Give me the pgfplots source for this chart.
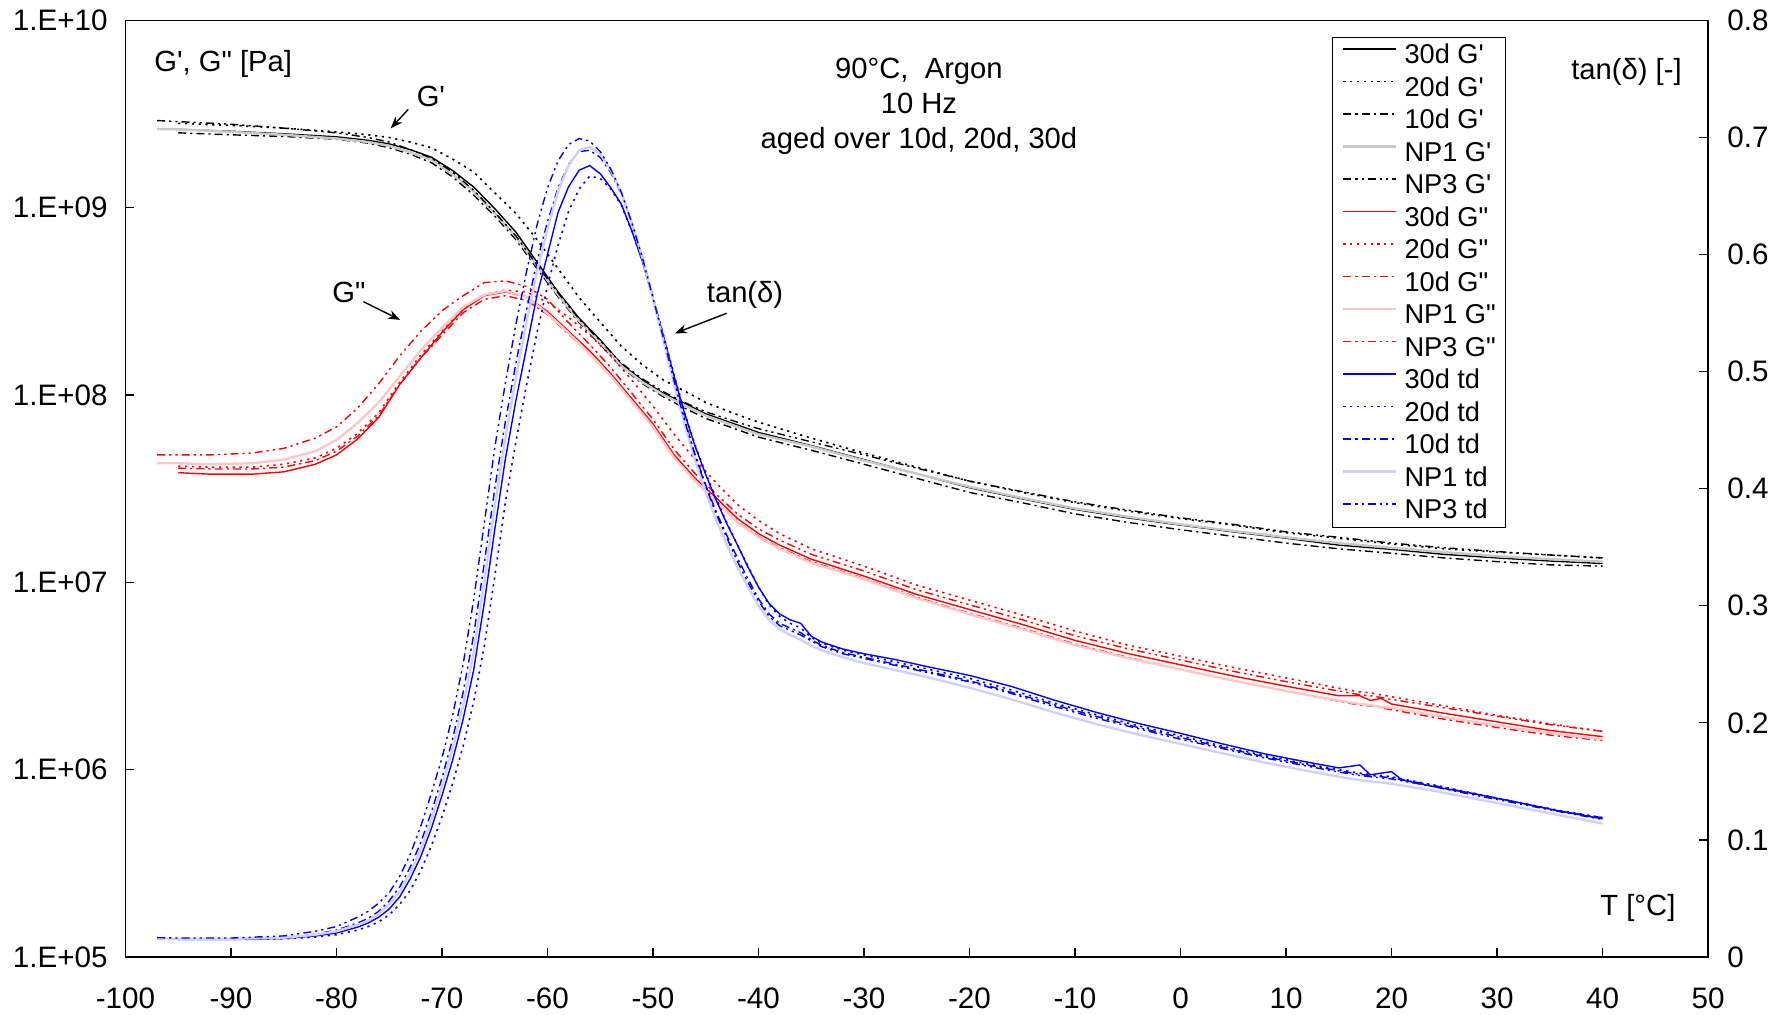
\documentclass[border=0pt]{standalone}
\usepackage{fontspec}
\setmainfont{Liberation Sans}[Ligatures=TeXOff]
\usepackage{pgfplots}
\usepackage{pgfplotstable}
\pgfplotsset{compat=1.18}
\usetikzlibrary{arrows.meta}

\definecolor{np1gray}{RGB}{200,200,200}
\definecolor{np1red}{RGB}{255,200,200}
\definecolor{np1blue}{RGB}{208,208,255}

\tikzset{
 s30/.style={line width=0.7pt},
 s20/.style={line width=0.8pt, dash pattern=on 1.1pt off 2.3pt},
 s10/.style={line width=0.7pt, dash pattern=on 4pt off 2pt on 1.1pt off 2pt},
 snp1/.style={line width=1.2pt},
 snp3/.style={line width=0.7pt, dash pattern=on 4pt off 2pt on 1.1pt off 2pt on 1.1pt off 2pt},
}

% G' [Pa]
\pgfplotstableread{
T a30 a20 a10 anp1 anp3
-97 nan nan nan 2.63e9 2.92e9
-95 2.62e9 2.82e9 2.51e9 2.62e9 2.88e9
-90 2.56e9 2.75e9 2.45e9 2.54e9 2.79e9
-85 2.48e9 2.66e9 2.40e9 2.45e9 2.66e9
-80 2.39e9 2.54e9 2.32e9 2.34e9 2.51e9
-77 2.29e9 2.45e9 2.21e9 2.24e9 2.37e9
-75 2.19e9 2.37e9 2.09e9 2.14e9 2.24e9
-73 2.04e9 2.24e9 1.93e9 1.97e9 2.04e9
-71 1.86e9 2.09e9 1.74e9 1.80e9 1.84e9
-69 1.58e9 1.82e9 1.46e9 1.51e9 1.55e9
-67 1.29e9 1.55e9 1.17e9 1.22e9 1.24e9
-65 9.89e8 1.20e9 9.02e8 9.33e8 9.44e8
-63 7.41e8 9.33e8 6.76e8 7.00e8 7.08e8
-61 5.13e8 6.76e8 4.73e8 4.90e8 4.95e8
-59 3.55e8 4.73e8 3.35e8 3.43e8 3.51e8
-57 2.57e8 3.31e8 2.43e8 2.48e8 2.54e8
-55 1.97e8 2.45e8 1.86e8 1.91e8 1.95e8
-53 1.46e8 1.82e8 1.41e8 1.43e8 1.48e8
-51 1.20e8 1.45e8 1.15e8 1.17e8 1.22e8
-49 1.02e8 1.20e8 9.77e7 1.00e8 1.04e8
-47 9.02e7 1.05e8 8.51e7 8.81e7 9.12e7
-45 7.94e7 9.12e7 7.50e7 7.76e7 8.13e7
-42 6.92e7 7.85e7 6.53e7 6.76e7 7.16e7
-40 6.31e7 7.16e7 5.96e7 6.17e7 6.61e7
-35 5.37e7 5.89e7 5.07e7 5.31e7 5.62e7
-30 4.52e7 4.90e7 4.27e7 4.47e7 4.79e7
-25 3.80e7 4.12e7 3.59e7 3.80e7 4.07e7
-20 3.20e7 3.47e7 3.02e7 3.24e7 3.47e7
-15 2.79e7 3.02e7 2.66e7 2.82e7 3.05e7
-10 2.45e7 2.66e7 2.32e7 2.48e7 2.69e7
-5 2.21e7 2.40e7 2.09e7 2.24e7 2.43e7
0 2.02e7 2.19e7 1.91e7 2.04e7 2.21e7
5 1.86e7 2.02e7 1.76e7 1.88e7 2.04e7
10 1.72e7 1.84e7 1.62e7 1.74e7 1.86e7
15 1.58e7 1.72e7 1.51e7 1.62e7 1.74e7
20 1.50e7 1.60e7 1.43e7 1.53e7 1.62e7
25 1.41e7 1.51e7 1.35e7 1.45e7 1.53e7
30 1.35e7 1.45e7 1.29e7 1.38e7 1.46e7
35 1.30e7 1.40e7 1.24e7 1.33e7 1.40e7
40 1.26e7 1.35e7 1.22e7 1.29e7 1.35e7
}\Gp

% G'' [Pa]
\pgfplotstableread{
T c30 c20 c10 cnp1 cnp3
-97 nan nan nan 4.33e7 4.79e7
-95 3.85e7 4.17e7 4.07e7 4.32e7 4.79e7
-92 3.78e7 4.12e7 4.03e7 4.27e7 4.79e7
-88 3.78e7 4.12e7 4.03e7 4.32e7 4.90e7
-85 3.89e7 4.27e7 4.12e7 4.52e7 5.19e7
-82 4.27e7 4.62e7 4.47e7 5.01e7 5.89e7
-80 4.79e7 5.19e7 5.01e7 5.75e7 6.76e7
-78 5.82e7 6.24e7 6.03e7 7.08e7 8.51e7
-76 7.59e7 8.04e7 7.76e7 9.12e7 1.15e8
-74 1.14e8 1.17e8 1.14e8 1.26e8 1.62e8
-72 1.58e8 1.64e8 1.58e8 1.74e8 2.19e8
-70 2.16e8 2.19e8 2.09e8 2.29e8 2.82e8
-68 2.85e8 2.88e8 2.75e8 2.95e8 3.39e8
-66 3.39e8 3.43e8 3.24e8 3.43e8 3.98e8
-64 3.55e8 3.63e8 3.39e8 3.59e8 4.07e8
-62 3.35e8 3.55e8 3.20e8 3.35e8 3.80e8
-60 2.79e8 3.13e8 2.69e8 2.72e8 3.24e8
-58 2.19e8 2.60e8 2.11e8 2.14e8 2.43e8
-56 1.72e8 2.09e8 1.66e8 1.66e8 1.86e8
-54 1.30e8 1.62e8 1.26e8 1.26e8 1.40e8
-52 9.55e7 1.20e8 9.23e7 9.23e7 1.02e8
-50 7.00e7 8.71e7 6.76e7 6.76e7 7.41e7
-48 4.79e7 6.17e7 4.62e7 4.62e7 5.13e7
-46 3.59e7 4.52e7 3.47e7 3.47e7 3.80e7
-44 2.82e7 3.39e7 2.72e7 2.69e7 2.95e7
-42 2.19e7 2.60e7 2.11e7 2.09e7 2.32e7
-40 1.82e7 2.14e7 1.76e7 1.74e7 1.93e7
-38 1.58e7 1.82e7 1.53e7 1.51e7 1.68e7
-35 1.33e7 1.51e7 1.29e7 1.27e7 1.41e7
-30 1.08e7 1.22e7 1.05e7 1.04e7 1.15e7
-25 8.61e6 9.66e6 8.32e6 8.22e6 9.12e6
-20 7.16e6 8.04e6 6.84e6 6.76e6 7.59e6
-15 5.96e6 6.68e6 5.69e6 5.62e6 6.31e6
-10 4.90e6 5.50e6 4.68e6 4.62e6 5.19e6
-5 4.17e6 4.62e6 3.98e6 3.94e6 4.42e6
0 3.63e6 4.03e6 3.43e6 3.43e6 3.85e6
5 3.16e6 3.51e6 2.99e6 2.99e6 3.35e6
10 2.79e6 3.09e6 2.63e6 2.63e6 2.95e6
15 2.48e6 2.72e6 2.32e6 2.34e6 2.63e6
17 2.48e6 2.60e6 2.21e6 2.24e6 2.51e6
18 2.34e6 2.57e6 2.19e6 2.21e6 2.48e6
19 2.40e6 2.51e6 2.14e6 2.16e6 2.43e6
20 2.24e6 2.45e6 2.09e6 2.14e6 2.37e6
25 2.00e6 2.19e6 1.86e6 1.91e6 2.14e6
30 1.80e6 1.95e6 1.68e6 1.72e6 1.93e6
35 1.62e6 1.76e6 1.53e6 1.57e6 1.74e6
40 1.50e6 1.60e6 1.43e6 1.45e6 1.60e6
}\Gpp

% tan(delta) [-]
\pgfplotstableread{
T b30 b20 b10 bnp1 bnp3
-97 nan nan nan 0.0155 0.0165
-95 0.0151 0.015 0.0152 0.0155 0.0162
-90 0.015 0.015 0.0152 0.0155 0.0162
-85 0.0158 0.0155 0.0165 0.0165 0.018
-82 0.018 0.017 0.0195 0.019 0.022
-80 0.0205 0.019 0.023 0.022 0.026
-78 0.0255 0.023 0.029 0.0275 0.034
-77 0.029 0.026 0.033 0.031 0.039
-76 0.034 0.03 0.039 0.037 0.046
-75 0.041 0.036 0.048 0.045 0.055
-74 0.0515 0.045 0.06 0.056 0.069
-73 0.067 0.057 0.077 0.072 0.088
-72 0.086 0.074 0.098 0.092 0.112
-71 0.11 0.095 0.124 0.117 0.14
-70 0.138 0.12 0.153 0.146 0.17
-69 0.168 0.148 0.186 0.178 0.206
-68 0.203 0.18 0.226 0.215 0.25
-67 0.245 0.218 0.275 0.26 0.305
-66 0.302 0.265 0.336 0.32 0.37
-65 0.365 0.325 0.4 0.385 0.435
-64 0.425 0.388 0.457 0.443 0.49
-63 0.475 0.44 0.507 0.495 0.54
-62 0.52 0.488 0.552 0.542 0.585
-61 0.565 0.533 0.594 0.585 0.625
-60 0.6 0.573 0.628 0.622 0.657
-59 0.636 0.608 0.657 0.654 0.68
-58 0.658 0.637 0.677 0.676 0.694
-57 0.672 0.656 0.688 0.689 0.699
-56 0.676 0.667 0.689 0.692 0.697
-55 0.669 0.665 0.683 0.686 0.688
-54 0.657 0.656 0.67 0.672 0.673
-53 0.643 0.642 0.652 0.653 0.653
-52 0.62 0.62 0.627 0.627 0.627
-51 0.594 0.594 0.598 0.597 0.597
-50 0.562 0.563 0.564 0.562 0.563
-49 0.53 0.531 0.529 0.526 0.528
-48 0.496 0.497 0.493 0.489 0.492
-47 0.464 0.465 0.459 0.455 0.458
-46 0.436 0.437 0.429 0.424 0.428
-45 0.412 0.413 0.403 0.397 0.402
-44 0.39 0.391 0.38 0.373 0.378
-43 0.37 0.371 0.36 0.352 0.358
-42 0.352 0.352 0.341 0.333 0.338
-41 0.333 0.334 0.323 0.316 0.32
-40 0.316 0.316 0.306 0.3 0.304
-39 0.302 0.301 0.293 0.288 0.291
-38 0.293 0.291 0.285 0.28 0.283
-37 0.288 0.285 0.281 0.275 0.279
-36 0.285 0.281 0.277 0.271 0.275
-35 0.274 0.273 0.271 0.266 0.27
-34 0.269 0.268 0.266 0.262 0.265
-32 0.263 0.262 0.26 0.256 0.259
-30 0.259 0.258 0.256 0.251 0.255
-27 0.254 0.252 0.25 0.245 0.249
-24 0.248 0.246 0.244 0.239 0.243
-20 0.2405 0.238 0.236 0.23 0.235
-16 0.231 0.228 0.226 0.22 0.225
-12 0.2195 0.217 0.2155 0.209 0.214
-8 0.209 0.207 0.2055 0.199 0.204
-4 0.1995 0.1975 0.196 0.19 0.195
0 0.191 0.189 0.1875 0.182 0.186
4 0.182 0.18 0.179 0.174 0.178
8 0.1735 0.172 0.171 0.166 0.17
12 0.1665 0.165 0.164 0.159 0.163
15 0.1615 0.16 0.159 0.154 0.158
17 0.164 0.157 0.156 0.151 0.155
18 0.1556 0.156 0.155 0.15 0.154
19 0.157 0.155 0.154 0.149 0.153
20 0.1583 0.154 0.153 0.148 0.152
21 0.1512 0.152 0.1515 0.1465 0.1505
24 0.1455 0.147 0.1465 0.142 0.1455
28 0.1392 0.1395 0.139 0.135 0.138
32 0.132 0.132 0.132 0.128 0.131
36 0.1245 0.125 0.1245 0.121 0.124
40 0.118 0.119 0.119 0.114 0.1175
}\Td

\begin{document}
\begin{tikzpicture}
\path[use as bounding box] (-62.75pt,-29pt) rectangle (830.75pt,478.5pt);
\begin{axis}[
  at={(0pt,0pt)}, anchor=south west,
  scale only axis, width=791.25pt, height=468.3pt,
  xmin=-100, xmax=50, ymin=1e5, ymax=1e10, ymode=log,
  xtick={-100,-90,-80,-70,-60,-50,-40,-30,-20,-10,0,10,20,30,40,50},
  xticklabels={-100,-90,-80,-70,-60,-50,-40,-30,-20,-10,0,10,20,30,40,50},
  ytick={1e5,1e6,1e7,1e8,1e9,1e10},
  yticklabels={1.E+05,1.E+06,1.E+07,1.E+08,1.E+09,1.E+10},
  yminorticks=false, xminorticks=false,
  tick align=inside, major tick length=4.5pt,
  xtick pos=bottom, ytick pos=left,
  axis line style={line width=0.75pt},
  every tick/.style={line width=0.6pt, black},
  ticklabel style={font=\fontsize{14.8}{17}\selectfont},
  yticklabel style={anchor=east, inner sep=0pt, xshift=-8.75pt},
  xticklabel style={anchor=base, inner sep=0pt, yshift=-26pt},
  /pgf/number format/assume math mode=true,
]
\addplot[black, s30] table[x=T, y=a30] {\Gp};
\addplot[black, s20] table[x=T, y=a20] {\Gp};
\addplot[black, s10] table[x=T, y=a10] {\Gp};
\addplot[np1gray, snp1] table[x=T, y=anp1] {\Gp};
\addplot[black, snp3] table[x=T, y=anp3] {\Gp};
\addplot[red, s30] table[x=T, y=c30] {\Gpp};
\addplot[red, s20] table[x=T, y=c20] {\Gpp};
\addplot[red, s10] table[x=T, y=c10] {\Gpp};
\addplot[np1red, snp1] table[x=T, y=cnp1] {\Gpp};
\addplot[red, snp3] table[x=T, y=cnp3] {\Gpp};

\node[anchor=west, inner sep=0pt, font=\fontsize{14.6}{17}\selectfont] at (rel axis cs:0.018,0.954) {G', G" [Pa]};
\node[anchor=east, inner sep=0pt, font=\fontsize{14.6}{17}\selectfont] at (rel axis cs:0.9836,0.945) {tan(δ) [-]};
\node[inner sep=0pt, font=\fontsize{14.6}{17}\selectfont] at (rel axis cs:0.9557,0.0523) {T [°C]};
\node[align=center, inner sep=0pt, font=\fontsize{14.6}{17.4}\selectfont] at (rel axis cs:0.5014,0.9083) {90°C,~ Argon\\10 Hz\\aged over 10d, 20d, 30d};
\node[inner sep=0pt, font=\fontsize{14.6}{17}\selectfont] at (rel axis cs:0.193,0.919) {G'};
\draw[-{Stealth[length=6pt,width=4.5pt]}, line width=0.7pt] (rel axis cs:0.1787,0.905) -- (rel axis cs:0.1676,0.8848);
\node[inner sep=0pt, font=\fontsize{14.6}{17}\selectfont] at (rel axis cs:0.1412,0.709) {G"};
\draw[-{Stealth[length=6pt,width=4.5pt]}, line width=0.7pt] (rel axis cs:0.1503,0.6997) -- (rel axis cs:0.1735,0.6802);
\node[inner sep=0pt, font=\fontsize{14.6}{17}\selectfont] at (rel axis cs:0.3915,0.7068) {tan(δ)};
\draw[-{Stealth[length=6pt,width=4.5pt]}, line width=0.7pt] (rel axis cs:0.3799,0.6873) -- (rel axis cs:0.3472,0.6659);
\end{axis}

\begin{axis}[
  at={(0pt,0pt)}, anchor=south west,
  scale only axis, width=791.25pt, height=468.3pt,
  xmin=-100, xmax=50, ymin=0, ymax=0.8,
  hide x axis,
  axis y line*=right,
  ytick={0,0.1,0.2,0.3,0.4,0.5,0.6,0.7,0.8},
  yticklabels={0,0.1,0.2,0.3,0.4,0.5,0.6,0.7,0.8},
  tick align=inside, major tick length=4.5pt,
  axis line style={line width=0.75pt},
  every tick/.style={line width=0.6pt, black},
  ticklabel style={font=\fontsize{14.8}{17}\selectfont},
  yticklabel style={anchor=west, inner sep=0pt, xshift=9.5pt},
  /pgf/number format/assume math mode=true,
  legend style={at={(0.8726,0.9826)}, anchor=north east, draw=black, line width=0.6pt, fill=white,
    font=\fontsize{13.6}{15}\selectfont, inner xsep=5pt, inner ysep=2.3pt,
    row sep=3.25pt, column sep=3.5pt,
    nodes={inner sep=0pt, text height=11pt, text depth=2pt}},
  legend cell align=left,
  legend image code/.code={\draw[#1] (0pt,3pt) -- (26.5pt,3pt);},
]
\addlegendimage{black, s30}
\addlegendimage{black, s20}
\addlegendimage{black, s10}
\addlegendimage{np1gray, snp1}
\addlegendimage{black, snp3}
\addlegendimage{red, s30}
\addlegendimage{red, s20}
\addlegendimage{red, s10}
\addlegendimage{np1red, snp1}
\addlegendimage{red, snp3}
\addplot[blue, s30] table[x=T, y=b30] {\Td};
\addplot[blue, s20] table[x=T, y=b20] {\Td};
\addplot[blue, s10] table[x=T, y=b10] {\Td};
\addplot[np1blue, snp1] table[x=T, y=bnp1] {\Td};
\addplot[blue, snp3] table[x=T, y=bnp3] {\Td};
\legend{30d G', 20d G', 10d G', NP1 G', NP3 G', 30d G", 20d G", 10d G", NP1 G", NP3 G", 30d td, 20d td, 10d td, NP1 td, NP3 td}
\end{axis}
\end{tikzpicture}
\end{document}
